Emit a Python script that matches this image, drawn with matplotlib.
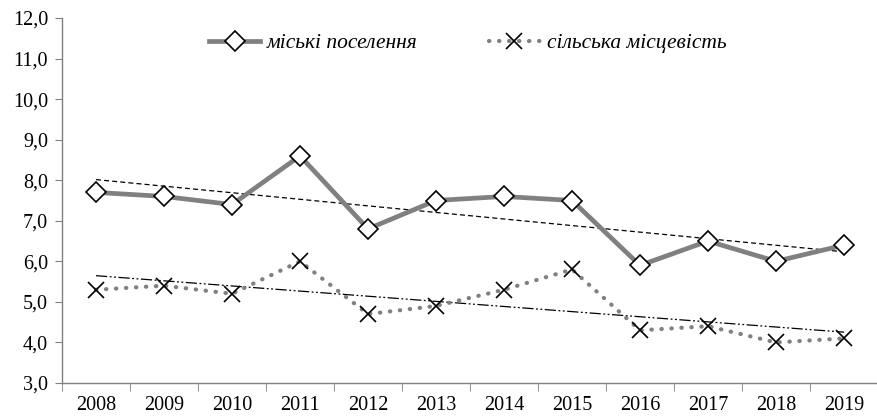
import numpy as np
import matplotlib
matplotlib.use('Agg')
import matplotlib.pyplot as plt
import matplotlib.ticker as mticker

years = ['2008', '2009', '2010', '2011', '2012', '2013', '2014', '2015',
         '2016', '2017', '2018', '2019']
urban = [7.7, 7.6, 7.4, 8.6, 6.8, 7.5, 7.6, 7.5, 5.9, 6.5, 6.0, 6.4]
rural = [5.3, 5.4, 5.2, 6.0, 4.7, 4.9, 5.3, 5.8, 4.3, 4.4, 4.0, 4.1]
urban_label = 'міські поселення'
rural_label = 'сільська місцевість'

plt.rcParams['font.family'] = ['Liberation Serif', 'DejaVu Serif']

fig = plt.figure(figsize=(8.78, 4.18), dpi=100)
ax = fig.add_axes([62 / 878, 1 - 383 / 418, 1 - 62 / 878, (383 - 18) / 418])

x = np.arange(len(years))
grey = '#808080'

ax.plot(x, urban, color=grey, lw=3.4, marker='D', ms=10, mfc='white',
        mec='black', mew=1.2, label=urban_label, zorder=4)
ax.plot(x, rural, color=grey, lw=3, ls=(0, (0.1, 2.3)), dash_capstyle='round',
        marker='x', ms=12, mec='black', mew=1.2, label=rural_label, zorder=4)

# linear trends
for vals, dashes in ((urban, (4, 2.5)), (rural, (9, 2, 1.5, 2, 1.5, 2))):
    k, b = np.polyfit(x, vals, 1)
    ax.plot(x, k * x + b, color='black', lw=0.9, dashes=dashes, zorder=3)

ax.set_xlim(-0.5, len(years) - 0.5)
ax.set_ylim(3, 12)
ax.yaxis.set_major_locator(mticker.MultipleLocator(1))
ax.yaxis.set_major_formatter(mticker.FuncFormatter(lambda v, p: f'{v:.1f}'.replace('.', ',')))
ax.set_xticks(x)
ax.set_xticklabels(years)
ax.set_xticks(np.arange(-0.5, len(years)), minor=True)
ax.tick_params(axis='x', which='major', length=0, pad=9, labelsize=14.5)
ax.tick_params(axis='x', which='minor', length=6, color=grey)
ax.tick_params(axis='y', length=5, color=grey, labelsize=14.5, pad=5)

for s in ('top', 'right'):
    ax.spines[s].set_visible(False)
for s in ('left', 'bottom'):
    ax.spines[s].set_color(grey)
    ax.spines[s].set_linewidth(1)

ax.legend(loc='upper center', bbox_to_anchor=(0.497, 1.012), ncol=2, frameon=False,
          prop={'style': 'italic', 'size': 15.5}, columnspacing=3.3, handlelength=2.4,
          handletextpad=0.3)

fig.savefig('out.png', dpi=100, facecolor='white')
